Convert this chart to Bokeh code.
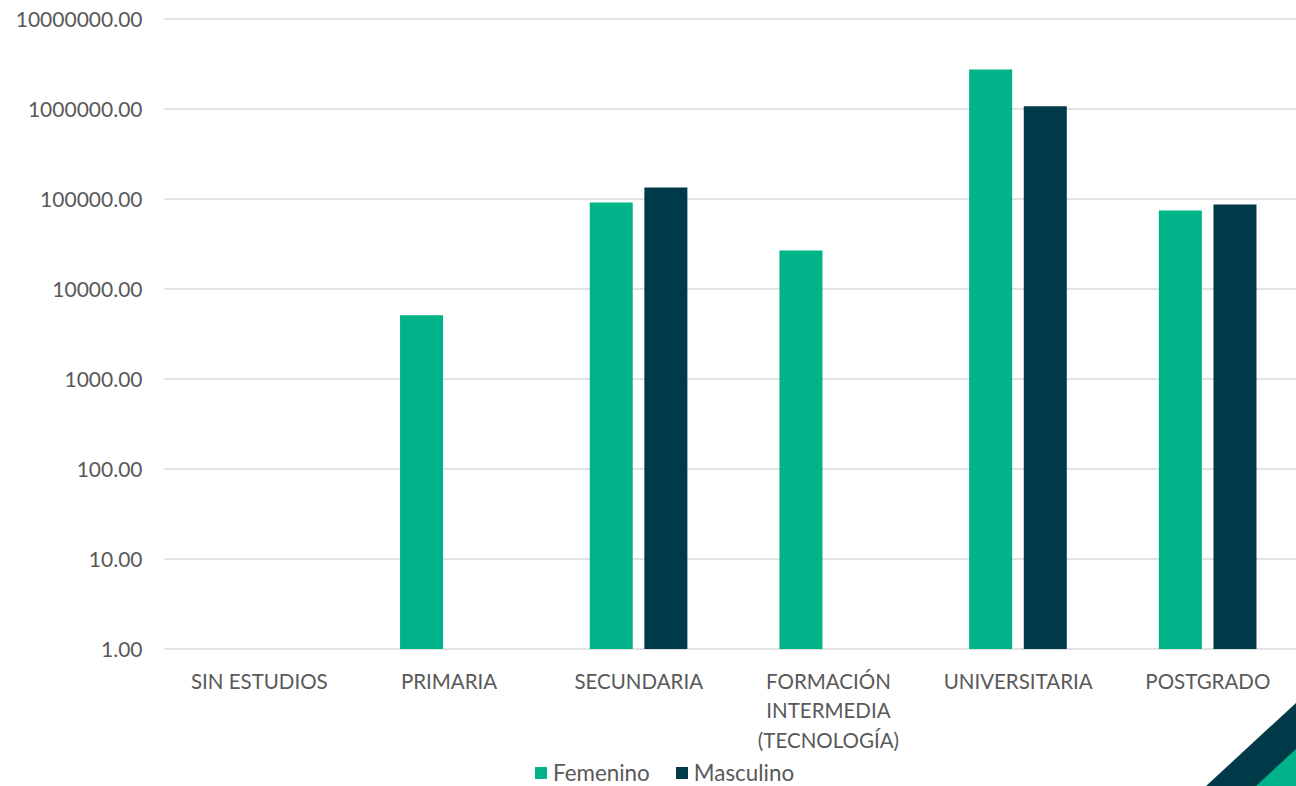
from bokeh.plotting import figure
from bokeh.models import (Range1d, FixedTicker, PrintfTickFormatter, ColumnDataSource,
                          Legend, LegendItem, PolyAnnotation)
from bokeh.transform import dodge
from bokeh.embed import file_html
from bokeh.resources import INLINE

categories = ["SIN ESTUDIOS", "PRIMARIA", "SECUNDARIA",
              "FORMACIÓN\nINTERMEDIA\n(TECNOLOGÍA)", "UNIVERSITARIA", "POSTGRADO"]
femenino = [0, 5100, 91500, 26800, 2750000, 74500]
masculino = [0, 0, 134000, 0, 1070000, 87000]
series_names = ["Femenino", "Masculino"]
y_ticks = [1, 10, 100, 1000, 10000, 100000, 1000000, 10000000]

GREEN = "#00B388"
DARK = "#003A48"
TEXT = "#595959"
FONT = "Lato"

W, H = 1296, 786
PLOT_LEFT, PX_PER_CAT = 164, 189.7
TOP_PX, PX_PER_DEC = 18.5, 90.0
x_start = -0.5 - PLOT_LEFT / PX_PER_CAT
x_end = -0.5 + (W - PLOT_LEFT) / PX_PER_CAT
y_top = 10 ** (7 + TOP_PX / PX_PER_DEC)
y_bot = 10 ** (7 - (H - TOP_PX) / PX_PER_DEC)

p = figure(width=W, height=H, y_axis_type="log",
           x_range=Range1d(x_start, x_end), y_range=Range1d(y_bot, y_top),
           output_backend="svg", toolbar_location=None,
           min_border_left=0, min_border_right=0, min_border_top=0, min_border_bottom=0)
p.outline_line_color = None
p.xgrid.grid_line_color = None
p.ygrid.grid_line_color = None

# horizontal gridlines over plot area only
p.segment(x0=-0.5, x1=x_end, y0=y_ticks, y1=y_ticks, line_color="#D9D9D9", line_width=1.5)

def src(vals):
    idx = [i for i, v in enumerate(vals) if v > 0]
    return ColumnDataSource(dict(x=idx, top=[vals[i] for i in idx]))

rf = p.vbar(x=dodge("x", -0.145, range=p.x_range), top="top", bottom=1, width=0.2267,
            source=src(femenino), fill_color=GREEN, line_color=None)
rm = p.vbar(x=dodge("x", 0.143, range=p.x_range), top="top", bottom=1, width=0.2267,
            source=src(masculino), fill_color=DARK, line_color=None)

# axes drawn at fixed locations inside the frame
p.xaxis.fixed_location = 1
p.xaxis.ticker = FixedTicker(ticks=list(range(len(categories))), minor_ticks=[])
p.xaxis.major_label_overrides = {i: c for i, c in enumerate(categories)}
p.xaxis.axis_line_color = None
p.xaxis.major_tick_line_color = None
p.xaxis.minor_tick_line_color = None
p.xaxis.major_tick_out = 0
p.xaxis.major_tick_in = 0
p.xaxis.major_label_standoff = 20
p.xaxis.major_label_text_font = FONT
p.xaxis.major_label_text_font_size = "20.5px"
p.xaxis.major_label_text_color = TEXT
p.xaxis.major_label_text_line_height = 1.224

p.yaxis.fixed_location = -0.5
p.yaxis.ticker = FixedTicker(ticks=y_ticks, minor_ticks=[])
p.yaxis.formatter = PrintfTickFormatter(format="%.2f")
p.yaxis.axis_line_color = None
p.yaxis.major_tick_line_color = None
p.yaxis.minor_tick_line_color = None
p.yaxis.major_tick_out = 0
p.yaxis.major_tick_in = 0
p.yaxis.major_label_standoff = 22
p.yaxis.major_label_text_font = FONT
p.yaxis.major_label_text_font_size = "21px"
p.yaxis.major_label_text_color = TEXT

legend = Legend(items=[LegendItem(label=series_names[0], renderers=[rf]),
                       LegendItem(label=series_names[1], renderers=[rm])],
                orientation="horizontal", location=(533, 0),
                glyph_width=15, glyph_height=15, label_standoff=5, spacing=24,
                padding=0, margin=0, border_line_color=None, background_fill_alpha=0,
                label_text_font=FONT, label_text_font_size="22.4px", label_text_color=TEXT)
p.add_layout(legend, "center")

# decorative corner stripes
p.add_layout(PolyAnnotation(xs=[1205, 1296, 1296], ys=[786, 702, 786],
                            xs_units="canvas", ys_units="canvas",
                            fill_color=DARK, fill_alpha=1, line_color=None))
p.add_layout(PolyAnnotation(xs=[1255, 1296, 1296], ys=[786, 748, 786],
                            xs_units="canvas", ys_units="canvas",
                            fill_color=GREEN, fill_alpha=1, line_color=None))

open("out.html", "w").write(file_html(p, INLINE))
